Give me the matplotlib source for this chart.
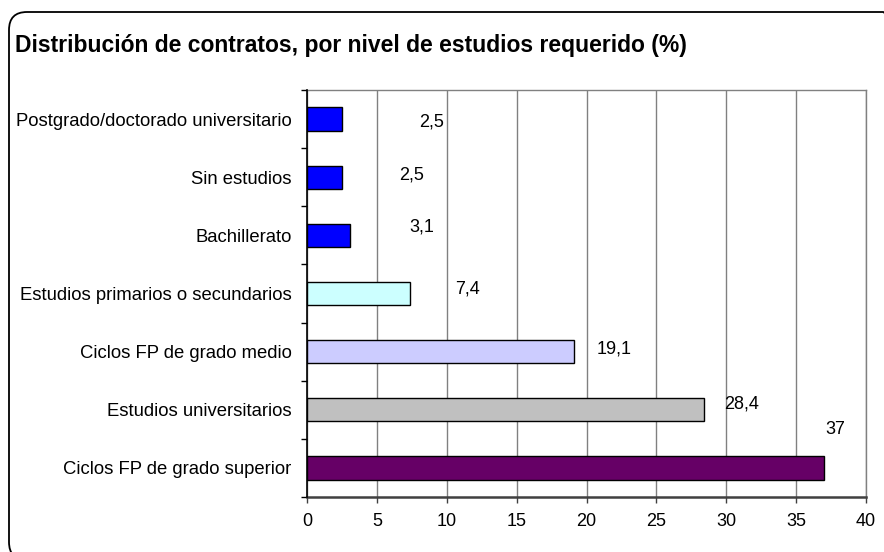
import matplotlib
matplotlib.use("Agg")
import matplotlib.pyplot as plt
from matplotlib.patches import FancyBboxPatch
import numpy as np

plt.rcParams['font.family'] = ['Liberation Sans', 'DejaVu Sans']

# datos (de arriba abajo)
categories = [
    "Postgrado/doctorado universitario",
    "Sin estudios",
    "Bachillerato",
    "Estudios primarios o secundarios",
    "Ciclos FP de grado medio",
    "Estudios universitarios",
    "Ciclos FP de grado superior",
]
values = [2.5, 2.5, 3.1, 7.4, 19.1, 28.4, 37]
value_labels = ["2,5", "2,5", "3,1", "7,4", "19,1", "28,4", "37"]
x_ticks = [0, 5, 10, 15, 20, 25, 30, 35, 40]
title = "Distribución de contratos, por nivel de estudios requerido (%)"

# estilo
colors = ["#0000FF", "#0000FF", "#0000FF", "#CCFFFF", "#CCCCFF", "#C0C0C0", "#660066"]
# desplazamiento de las etiquetas (x en unidades de datos, y en puntos)
lab_dx = [6.4, 5.0, 5.1, 4.1, 2.9, 2.7, 0.8]
lab_dy = [-2, 1.5, 6, 3, 2, 4, 28]

W, H = 884, 552
fig = plt.figure(figsize=(W / 100, H / 100), dpi=100)
ax = fig.add_axes([307 / W, 1 - 497 / H, 559 / W, 407 / H])

y = np.arange(len(categories))
ax.barh(y, values, height=0.4, color=colors, edgecolor="black", linewidth=1, zorder=3)

ax.set_xlim(0, 40)
ax.set_ylim(len(categories) - 0.5, -0.5)

ax.set_xticks(x_ticks)
ax.set_xticklabels([str(t) for t in x_ticks], fontsize=13)
ax.tick_params(axis="x", direction="out", length=4.3, width=1, color="#404040", pad=7)

ax.set_yticks(y)
ax.set_yticklabels(categories, fontsize=13.3)
ax.set_yticks(np.arange(len(categories) + 1) - 0.5, minor=True)
ax.tick_params(axis="y", which="major", length=0, pad=11)
ax.tick_params(axis="y", which="minor", direction="out", length=4.3, width=1, color="black")

ax.grid(axis="x", color="#808080", linewidth=1, zorder=1)
ax.set_axisbelow(True)

ax.spines["left"].set_color("black")
ax.spines["left"].set_linewidth(1.2)
ax.spines["left"].set_zorder(4)
ax.spines["bottom"].set_color("#404040")
ax.spines["bottom"].set_linewidth(1.8)
ax.spines["top"].set_color("#808080")
ax.spines["right"].set_color("#808080")
ax.spines["top"].set_linewidth(1)
ax.spines["right"].set_linewidth(1)

for i, (v, lab) in enumerate(zip(values, value_labels)):
    ax.annotate(lab, xy=(v + lab_dx[i], i), xytext=(0, lab_dy[i]),
                textcoords="offset points", ha="center", va="center",
                fontsize=13, annotation_clip=False, zorder=5)

# título
fig.text(15 / W, 1 - 52 / H, title, fontsize=16.5, fontweight="bold",
         ha="left", va="baseline")

# marco redondeado (se sale por la derecha y por abajo)
frame = FancyBboxPatch((9, -8), 892, H - 12 + 8,
                       boxstyle="round,pad=0,rounding_size=18",
                       transform=None, fill=False, edgecolor="black",
                       linewidth=1.3)
fig.add_artist(frame)

fig.savefig("out.png", dpi=100)
